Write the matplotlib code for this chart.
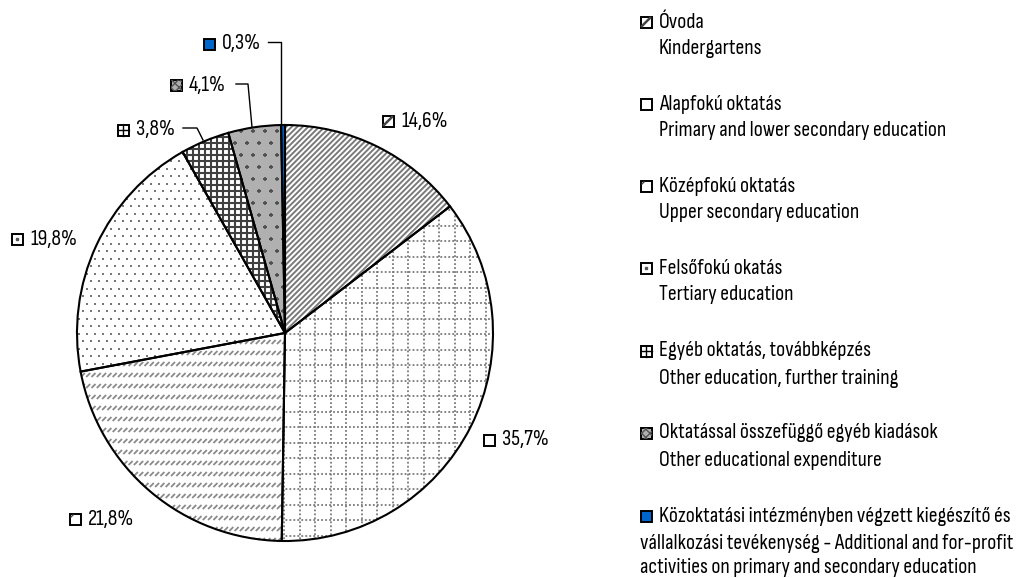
import numpy as np
import matplotlib
matplotlib.use('Agg')
import matplotlib.pyplot as plt
from matplotlib import font_manager
from matplotlib.patches import Rectangle, Wedge
from matplotlib.collections import LineCollection

# ---------------- data ----------------
names_hu = ['Óvoda', 'Alapfokú oktatás', 'Középfokú oktatás', 'Felsőfokú okatás',
            'Egyéb oktatás, továbbképzés', 'Oktatással összefüggő egyéb kiadások',
            'Közoktatási intézményben végzett kiegészítő és']
names_en = ['Kindergartens', 'Primary and lower secondary education', 'Upper secondary education',
            'Tertiary education', 'Other education, further training', 'Other educational expenditure',
            'vállalkozási tevékenység - Additional and for-profit\nactivities on primary and secondary education']
values = [14.6, 35.7, 21.8, 19.8, 3.8, 4.1, 0.3]
value_labels = ['14,6%', '35,7%', '21,8%', '19,8%', '3,8%', '4,1%', '0,3%']
facecolors = ['white', 'white', 'white', 'white', 'white', '#b0b0b0', '#0066cc']

# ---------------- font ----------------
avail = {f.name for f in font_manager.fontManager.ttflist}
FONT = 'DejaVu Sans'
for cand in ['Sofia Sans Condensed', 'Roboto Condensed', 'Barlow Condensed',
             'Saira SemiCondensed', 'Roboto']:
    if cand in avail:
        FONT = cand
        break
plt.rcParams['font.family'] = [FONT, 'DejaVu Sans']

W, H = 1029, 578
fig = plt.figure(figsize=(W / 100, H / 100), dpi=100)
ax = fig.add_axes([0, 0, 1, 1])

# scale font so that a reference string has the reference width (~288 px)
probe = fig.text(0, 0, names_en[1], fontsize=14)
fig.canvas.draw()
wpx = probe.get_window_extent().width
probe.remove()
FS = min(16.0, 14 * 288.0 / wpx)


def Y(y):
    return H - y


CX, CY, R = 285, Y(333), 208
wedges, _ = ax.pie(values, startangle=90, counterclock=False, center=(CX, CY), radius=R,
                   colors=facecolors, wedgeprops=dict(linewidth=0))
ax.set_xlim(0, W)
ax.set_ylim(0, H)
ax.axis('off')

x0, x1 = CX - R - 10, CX + R + 10
y0, y1 = CY - R - 10, CY + R + 10

# Óvoda: dense diagonal stripes
w = wedges[0]
segs = [[(c, y0), (c + (y1 - y0), y1)] for c in np.arange(x0 - (y1 - y0), x1, 5.5)]
lc = LineCollection(segs, colors='#7a7a7a', linewidths=1.4, zorder=2)
ax.add_collection(lc); lc.set_clip_path(w)

# Alapfokú: dotted grid
w = wedges[1]
segs = [[(x, y0), (x, y1)] for x in np.arange(x0, x1, 15.5)] + \
       [[(x0, y), (x1, y)] for y in np.arange(y0, y1, 15.5)]
lc = LineCollection(segs, colors='#7a7a7a', linewidths=1.3, linestyles=(0, (1, 1.2)), zorder=2)
ax.add_collection(lc); lc.set_clip_path(w)

# Középfokú: rows of short slashes
w = wedges[2]
segs = []
for yy in np.arange(y0, y1, 11):
    for xx in np.arange(x0, x1, 5.3):
        segs.append([(xx - 2, yy - 2), (xx + 2, yy + 2)])
lc = LineCollection(segs, colors='#8a8a8a', linewidths=1.3, zorder=2)
ax.add_collection(lc); lc.set_clip_path(w)

# Felsőfokú: sparse dots
w = wedges[3]
pts = []
for i, yy in enumerate(np.arange(y0, y1, 7.5)):
    off = 4 if i % 2 else 0
    for xx in np.arange(x0 + off, x1, 8):
        pts.append((xx, yy))
pts = np.array(pts)
sc = ax.scatter(pts[:, 0], pts[:, 1], s=1.6, c='#777777', marker='s', linewidths=0, zorder=2)
sc.set_clip_path(w)

# Egyéb: dark crosshatch
w = wedges[4]
segs = [[(x, y0), (x, y1)] for x in np.arange(x0, x1, 6)] + \
       [[(x0, y), (x1, y)] for y in np.arange(y0, y1, 6)]
lc = LineCollection(segs, colors='#404040', linewidths=1.5, zorder=2)
ax.add_collection(lc); lc.set_clip_path(w)

# Oktatással: gray stipple with darker crosses
w = wedges[5]
pts = []
for i, yy in enumerate(np.arange(y0, y1, 2)):
    off = 1 if i % 2 else 0
    for xx in np.arange(x0 + off, x1, 2):
        pts.append((xx, yy))
pts = np.array(pts)
sc = ax.scatter(pts[:, 0], pts[:, 1], s=0.5, c='#dedede', marker='s', linewidths=0, zorder=2)
sc.set_clip_path(w)
pts = []
for i, yy in enumerate(np.arange(y0, y1, 12)):
    off = 6 if i % 2 else 0
    for xx in np.arange(x0 + off, x1, 12):
        pts.append((xx, yy))
pts = np.array(pts)
sc = ax.scatter(pts[:, 0], pts[:, 1], s=12, c='#505050', marker='+', linewidths=1.2, zorder=3)
sc.set_clip_path(w)

# outlines
for w in wedges:
    ax.add_patch(Wedge(w.center, w.r, w.theta1, w.theta2, fill=False,
                       edgecolor='black', linewidth=1.5, zorder=5))


# ---------------- small marker squares ----------------
def marker(cx, cy, i, size=11):
    kw = dict(linewidth=1.4, edgecolor='black', zorder=6)
    ax.add_patch(Rectangle((cx - size / 2, Y(cy) - size / 2), size, size,
                           facecolor=facecolors[i] if i in (5, 6) else 'white', **kw))
    s = size / 2
    yc = Y(cy)
    if i == 0:
        ax.plot([cx - s + 1.5, cx + s - 1.5], [yc - s + 1.5, yc + s - 1.5], color='#444', lw=1.8, zorder=7)
    elif i == 2:
        ax.plot([cx - s + 1.5, cx - s + 3.5], [yc + s - 3.5, yc + s - 1.5], color='#444', lw=1.0, zorder=7)
    elif i == 3:
        ax.plot([cx], [yc], marker='s', ms=1.5, color='#555', zorder=7)
    elif i == 4:
        ax.plot([cx, cx], [yc - s, yc + s], color='black', lw=1.0, zorder=7)
        ax.plot([cx - s, cx + s], [yc, yc], color='black', lw=1.0, zorder=7)
    elif i == 5:
        ax.add_patch(Rectangle((cx - s, yc - s), size, size, facecolor='none', edgecolor='#555',
                               hatch='xxxx', linewidth=0, zorder=7))


def txt(x, y, s, **kw):
    ax.text(x, Y(y), s, fontsize=FS, va='center', ha='left', color='black', zorder=8, **kw)


# ---------------- data labels ----------------
label_pos = [(388, 121), (489, 440), (75, 519), (17, 239), (123, 130), (176, 85), (209, 44)]
for i, (mx, my) in enumerate(label_pos):
    marker(mx, my, i)
    txt(mx + 13, my, value_labels[i])

# leader lines
lk = dict(color='black', lw=1.0, zorder=4)
ax.plot([268, 281, 281], [Y(42), Y(42), Y(125)], **lk)
ax.plot([236, 248, 252], [Y(84), Y(84), Y(127)], **lk)
ax.plot([183, 197, 203], [Y(128), Y(128), Y(140)], **lk)

# ---------------- legend ----------------
leg_y = [22, 104, 186, 268, 351, 433, 516]
for i, ly in enumerate(leg_y):
    marker(646, ly, i)
    txt(659, ly, names_hu[i])
    if i < 6:
        txt(659, ly + 27, names_en[i])
    else:
        txt(640, ly + 39.5, names_en[i], linespacing=1.3)

fig.savefig('out.png', dpi=100)
